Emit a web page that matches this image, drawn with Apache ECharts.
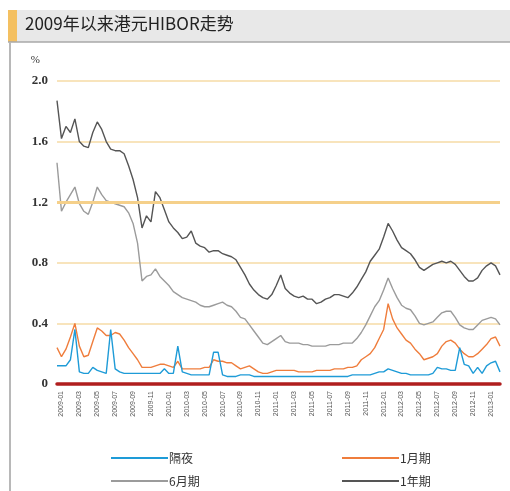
<!DOCTYPE html>
<html>
<head>
<meta charset="utf-8">
<script src="https://cdn.jsdelivr.net/npm/echarts@6/dist/echarts.min.js"></script>
<style>
    html, body {margin:0;padding:0;background:#fff;}
    #chart {width:510px;height:491px;}
</style>
</head>
<body>
<div id="chart"></div>
<script>
    // 半月一个点，2009-01 ~ 2013-02
    var months = [];
    for (var y = 2009; y <= 2013; y++) {
        for (var m = 1; m <= 12; m++) {
            if (y === 2013 && m > 2) break;
            var mm = (m < 10 ? '0' : '') + m;
            months.push(y + '-' + mm + '-a', y + '-' + mm + '-b');
        }
    }
    var categories = months;

    var seriesNames = ['隔夜', '1月期', '6月期', '1年期'];

    var overnight = [0.12,0.12,0.12,0.16,0.36,0.08,0.07,0.07,0.11,0.09,
        0.08,0.07,0.36,0.10,0.08,0.07,0.07,0.07,0.07,0.07,
        0.07,0.07,0.07,0.07,0.10,0.07,0.07,0.25,0.08,0.07,
        0.06,0.06,0.06,0.06,0.06,0.21,0.21,0.06,0.05,0.05,
        0.05,0.06,0.06,0.06,0.05,0.05,0.05,0.05,0.05,0.05,
        0.05,0.05,0.05,0.05,0.05,0.05,0.05,0.05,0.05,0.05,
        0.05,0.05,0.05,0.05,0.05,0.05,0.06,0.06,0.06,0.06,
        0.06,0.07,0.08,0.08,0.10,0.09,0.08,0.07,0.07,0.06,
        0.06,0.06,0.06,0.06,0.07,0.11,0.10,0.10,0.09,0.09,
        0.24,0.13,0.12,0.07,0.11,0.07,0.12,0.14,0.15,0.08];

    var month1 = [0.24,0.18,0.23,0.31,0.40,0.25,0.18,0.19,0.28,0.37,
        0.35,0.32,0.32,0.34,0.33,0.29,0.24,0.20,0.16,0.11,
        0.11,0.11,0.12,0.13,0.13,0.12,0.11,0.15,0.10,0.10,
        0.10,0.10,0.10,0.11,0.11,0.16,0.15,0.15,0.14,0.14,
        0.12,0.10,0.11,0.12,0.10,0.08,0.07,0.07,0.08,0.09,
        0.09,0.09,0.09,0.09,0.08,0.08,0.08,0.08,0.09,0.09,
        0.09,0.09,0.10,0.10,0.10,0.11,0.11,0.12,0.16,0.18,
        0.20,0.24,0.30,0.36,0.53,0.43,0.37,0.33,0.29,0.27,
        0.23,0.20,0.16,0.17,0.18,0.20,0.25,0.28,0.29,0.27,
        0.23,0.20,0.18,0.18,0.20,0.23,0.26,0.30,0.31,0.25];

    var month6 = [1.46,1.14,1.20,1.25,1.30,1.19,1.14,1.12,1.20,1.30,
        1.25,1.21,1.20,1.19,1.18,1.17,1.13,1.06,0.93,0.68,
        0.71,0.72,0.76,0.71,0.68,0.65,0.61,0.59,0.57,0.56,
        0.55,0.54,0.52,0.51,0.51,0.52,0.53,0.54,0.52,0.51,
        0.48,0.44,0.43,0.39,0.35,0.31,0.27,0.26,0.28,0.30,
        0.32,0.28,0.27,0.27,0.27,0.26,0.26,0.25,0.25,0.25,
        0.25,0.26,0.26,0.26,0.27,0.27,0.27,0.30,0.34,0.39,
        0.45,0.51,0.55,0.62,0.70,0.63,0.57,0.52,0.50,0.49,
        0.45,0.40,0.39,0.40,0.41,0.44,0.47,0.48,0.48,0.44,
        0.39,0.37,0.36,0.36,0.39,0.42,0.43,0.44,0.43,0.39];

    var year1 = [1.87,1.62,1.70,1.66,1.75,1.60,1.57,1.56,1.66,1.73,
        1.68,1.60,1.55,1.54,1.54,1.52,1.44,1.35,1.23,1.03,
        1.11,1.07,1.27,1.23,1.15,1.07,1.03,1.00,0.96,0.97,
        1.01,0.93,0.91,0.90,0.87,0.88,0.88,0.86,0.85,0.84,
        0.82,0.77,0.72,0.66,0.62,0.59,0.57,0.56,0.59,0.65,
        0.72,0.63,0.60,0.58,0.57,0.58,0.56,0.56,0.53,0.54,
        0.56,0.57,0.59,0.59,0.58,0.57,0.60,0.64,0.69,0.74,
        0.81,0.85,0.89,0.97,1.06,1.01,0.95,0.90,0.88,0.86,
        0.82,0.77,0.75,0.77,0.79,0.80,0.81,0.80,0.81,0.79,
        0.75,0.71,0.68,0.68,0.70,0.75,0.78,0.80,0.78,0.72];

    var colors = ['#1e9bd7', '#ef7d3c', '#9b9b9b', '#555555'];

    var chart = echarts.init(document.getElementById('chart'));

    var mkLine = function (name, data, color, z) {
        return {
            name: name,
            type: 'line',
            data: data,
            symbol: 'none',
            z: z,
            lineStyle: {color: color, width: 1.4},
            itemStyle: {color: color}
        };
    };

    var series = [
        mkLine(seriesNames[3], year1, colors[3], 2),
        mkLine(seriesNames[2], month6, colors[2], 3),
        mkLine(seriesNames[1], month1, colors[1], 4),
        mkLine(seriesNames[0], overnight, colors[0], 5)
    ];
    // 1.2 那条网格线较粗
    series[0].markLine = {
        silent: true,
        symbol: 'none',
        label: {show: false},
        lineStyle: {color: '#f5d08a', width: 3, type: 'solid'},
        data: [{yAxis: 1.2}]
    };

    // 图例：两列两行，每项单独放
    var mkLegend = function (name, left, top) {
        return {
            data: [name],
            left: left, top: top,
            icon: 'rect',
            itemWidth: 57, itemHeight: 2, itemGap: 0,
            textStyle: {fontSize: 12, color: '#333', fontFamily: 'Noto Sans CJK SC', padding: [0, 0, 0, -4]}
        };
    };

    var option = {
        backgroundColor: '#fff',
        animation: false,
        graphic: [
            {type: 'rect', shape: {x: 8, y: 10, width: 502, height: 32}, style: {fill: '#e8e8e8'}},
            {type: 'rect', shape: {x: 8, y: 10, width: 9, height: 32}, style: {fill: '#f4c061'}},
            {type: 'line', shape: {x1: 8, y1: 42, x2: 510, y2: 42}, style: {stroke: '#a8a8a8', lineWidth: 1.5}},
            {type: 'line', shape: {x1: 10, y1: 42, x2: 10, y2: 491}, style: {stroke: '#b8b8b8', lineWidth: 2}},
            {
                type: 'text', left: 25, top: 15,
                style: {
                    text: '2009年以来港元HIBOR走势',
                    font: '17px "Noto Sans CJK SC", "Noto Sans", sans-serif',
                    fill: '#222'
                }
            }
        ],
        legend: [
            mkLegend(seriesNames[0], 106, 447),
            mkLegend(seriesNames[1], 337, 447),
            mkLegend(seriesNames[2], 106, 470),
            mkLegend(seriesNames[3], 337, 470)
        ],
        grid: {left: 57, right: 10, top: 81, bottom: 107, containLabel: false},
        xAxis: {
            type: 'category',
            data: categories,
            boundaryGap: false,
            axisLine: {onZero: true, lineStyle: {color: '#b01e1e', width: 3.5}},
            axisTick: {show: false},
            axisLabel: {
                rotate: 90,
                fontSize: 7,
                color: '#555',
                margin: 7,
                interval: function (index) { return index % 4 === 1; },
                formatter: function (v) { return v.slice(0, 7); }
            },
            splitLine: {show: false}
        },
        yAxis: {
            type: 'value',
            min: 0, max: 2.0, interval: 0.4,
            name: '%',
            nameGap: 15,
            nameTextStyle: {align: 'right', padding: [0, 17, 0, 0], fontSize: 11, color: '#333', fontFamily: 'Liberation Serif'},
            axisLine: {show: false},
            axisTick: {show: false},
            axisLabel: {
                fontSize: 13, color: '#333', fontWeight: 'bold', margin: 9,
                fontFamily: 'Liberation Serif',
                formatter: function (v) { return v === 0 ? '0' : v.toFixed(1); }
            },
            splitLine: {lineStyle: {color: '#f6dba6', width: 1.5}}
        },
        series: series
    };

    chart.setOption(option);

    window.onresize = function () {
        chart.resize();
    };
</script>
</body>
</html>
